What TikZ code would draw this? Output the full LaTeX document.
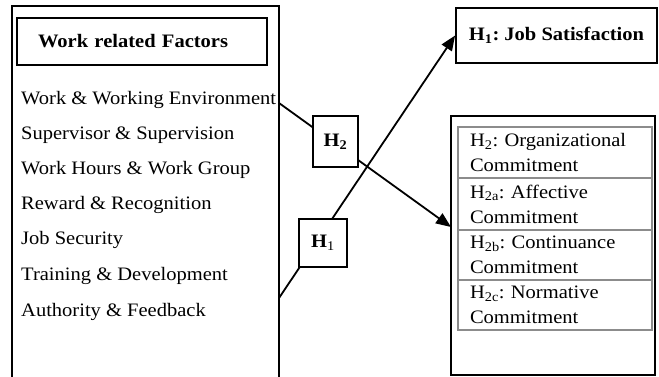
\documentclass[tikz,border=0pt]{standalone}
\usepackage{fontspec}
\setmainfont{Liberation Serif}[FakeStretch=1.08]
\usetikzlibrary{arrows.meta}
\begin{document}
\fontsize{19}{23}\selectfont\frenchspacing
\begin{tikzpicture}[x=1pt,y=-1pt,
  box/.style={draw, line width=1.8pt, rectangle, inner sep=0pt},
  item/.style={anchor=west, inner sep=0pt},
  row/.style={draw=black!45, line width=1.5pt, rectangle, minimum width=194pt, text width=170pt,
    inner xsep=12pt, inner ysep=0pt, align=left, font=\fontsize{19}{25}\selectfont},
  conn/.style={line width=1.8pt, -{Triangle[length=15pt,width=12pt]}},
  hbox/.style={draw, fill=white, line width=1.8pt, inner sep=0pt, font=\bfseries}
]
\useasboundingbox (0,0) rectangle (659,376);
% left factor box (open at the bottom edge)
\node[box, minimum width=267pt, minimum height=376pt] (fac) at (145.5,194) {};
\node[box, minimum height=47pt, text width=208pt, inner xsep=21pt, align=left, font=\bfseries] (hdr) at (142,41.5) {Work related Factors};
\node[item] (f1) at (21,100) {Work \& Working Environment};
\node[item] (f2) at (21,135) {Supervisor \& Supervision};
\node[item] (f3) at (21,170) {Work Hours \& Work Group};
\node[item] (f4) at (21,205) {Reward \& Recognition};
\node[item] (f5) at (21,240) {Job Security};
\node[item] (f6) at (21,276) {Training \& Development};
\node[item] (f7) at (21,312) {Authority \& Feedback};
% job satisfaction
\node[box, minimum width=201pt, minimum height=55pt, font=\bfseries] (js) at (556.5,35.5) {H\textsubscript{1}: Job Satisfaction};
% commitment box
\node[box, minimum width=204pt, minimum height=259pt] (org) at (553,245.5) {};
\node[row, minimum height=51pt] (r1) at (555,152.5) {H\textsubscript{2}: Organizational\\Commitment};
\node[row, minimum height=52pt] (r2) at (555,204) {H\textsubscript{2a}: Affective\\Commitment};
\node[row, minimum height=50pt] (r3) at (555,255) {H\textsubscript{2b}: Continuance\\Commitment};
\node[row, minimum height=50pt] (r4) at (555,305) {H\textsubscript{2c}: Normative\\Commitment};
% connectors
\coordinate (s2) at (279,103);
\coordinate (t2) at (451,227);
\coordinate (s1) at (279,298);
\draw[conn] (s2) -- (t2);
\draw[conn] (s1) -- (js.west);
% hypothesis labels
\node[hbox, minimum width=45pt, minimum height=51pt] (h2) at (335.5,141.5) {H\textsubscript{2}};
\node[hbox, minimum width=48pt, minimum height=48pt] (h1) at (323,243) {H\textsubscript{\normalfont 1}};
\end{tikzpicture}
\end{document}
